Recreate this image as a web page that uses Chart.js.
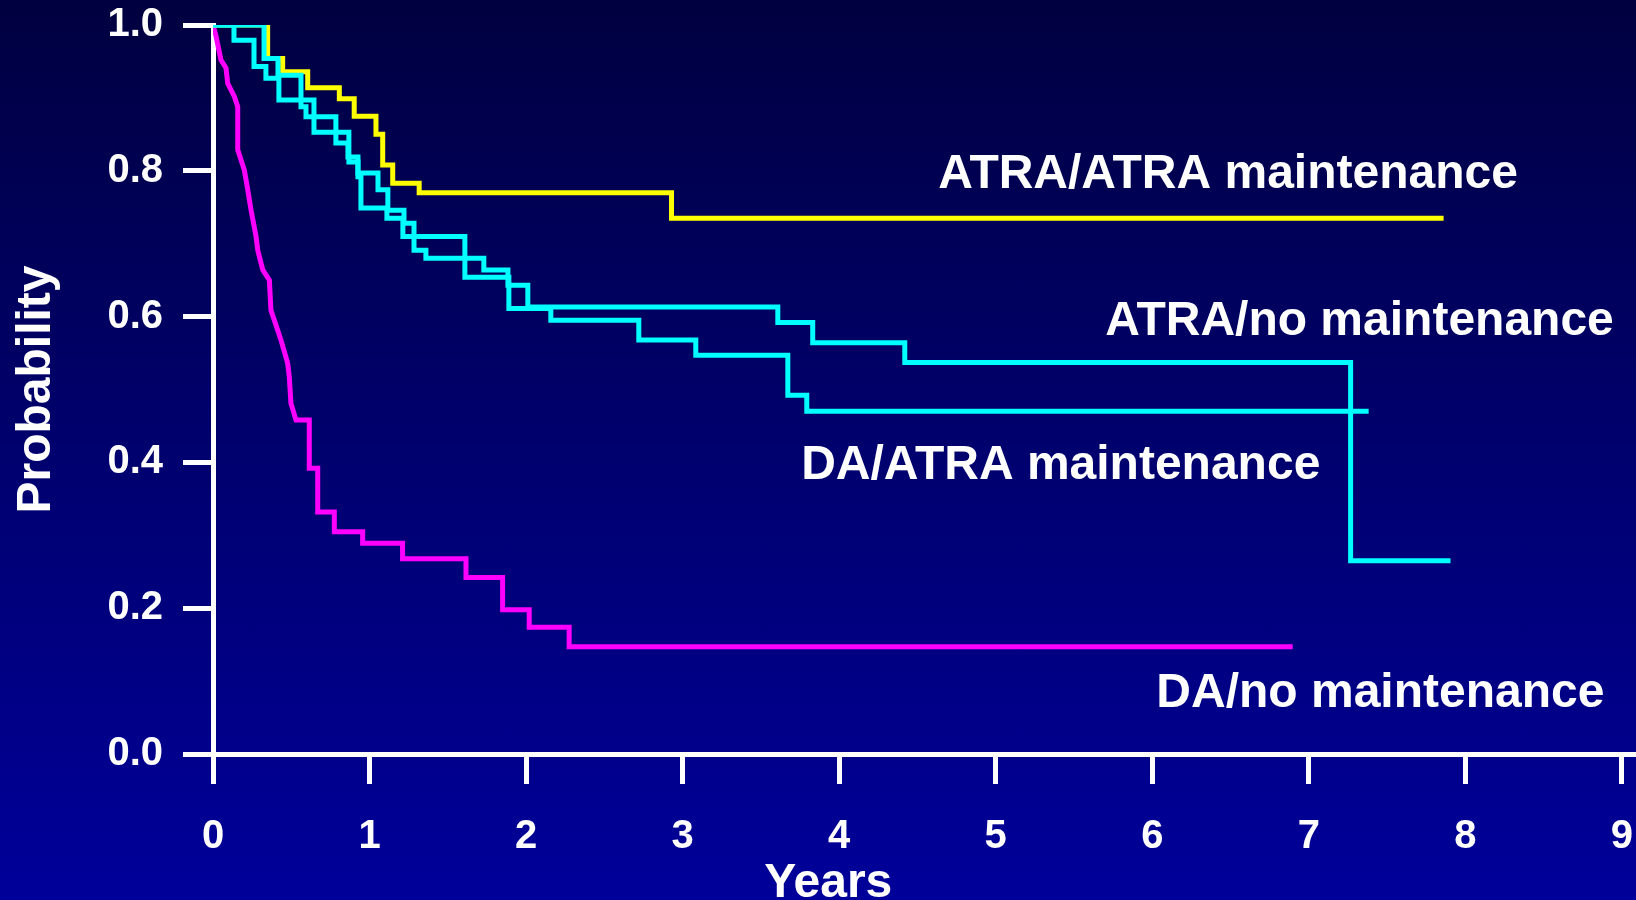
<!DOCTYPE html>
<html>
<head>
<meta charset="utf-8">
<title>Disease-free survival by induction and maintenance</title>
<script src="https://cdn.jsdelivr.net/npm/chart.js@4.4.1/dist/chart.umd.min.js"></script>
<style>
  html, body {
    margin: 0;
    padding: 0;
    width: 1636px;
    height: 900px;
    overflow: hidden;
    background: linear-gradient(to bottom, #000040 0%, #00006e 50%, #00009a 100%);
  }
  canvas { display: block; }
</style>
</head>
<body>
<canvas id="km" width="1636" height="900"></canvas>
<script>
// ---- data -------------------------------------------------------------
const yearTicks = [0, 1, 2, 3, 4, 5, 6, 7, 8, 9];
const probTicks = [0, 0.2, 0.4, 0.6, 0.8, 1.0];

const seriesNames = [
  'ATRA/ATRA maintenance',
  'ATRA/no maintenance',
  'DA/ATRA maintenance',
  'DA/no maintenance'
];

// step curves: each value holds from its time until the next time
const atraAtraYears = [0, 0.349, 0.445, 0.605, 0.807, 0.902, 1.041, 1.084, 1.148, 1.317, 2.929, 7.861];
const atraAtraProb  = [1.0, 0.954, 0.936, 0.914, 0.899, 0.875, 0.850, 0.808, 0.783, 0.770, 0.735, 0.735];

const atraNoYears = [0, 0.134, 0.262, 0.338, 0.421, 0.645, 0.868, 0.926, 1.054, 1.117, 1.220, 1.284,
                     1.360, 1.730, 1.884, 2.011, 3.608, 3.831, 4.419, 7.267, 7.905];
const atraNoProb  = [1.0, 0.979, 0.943, 0.927, 0.897, 0.853, 0.812, 0.797, 0.774, 0.746, 0.728, 0.691,
                     0.680, 0.664, 0.643, 0.613, 0.592, 0.564, 0.537, 0.265, 0.265];

const daAtraYears = [0, 0.326, 0.415, 0.562, 0.594, 0.785, 0.862, 0.926, 0.945, 1.111, 1.213, 1.609,
                     1.890, 2.158, 2.720, 3.084, 3.672, 3.793, 7.382];
const daAtraProb  = [1.0, 0.954, 0.931, 0.888, 0.874, 0.838, 0.819, 0.792, 0.749, 0.735, 0.710, 0.654,
                     0.611, 0.595, 0.568, 0.547, 0.492, 0.470, 0.470];

// polyline vertices (dense early events, then plain steps)
const daNoYears = [0, 0.019, 0.051, 0.083, 0.094, 0.136, 0.158, 0.158, 0.200, 0.222, 0.243, 0.275,
                   0.286, 0.318, 0.360, 0.370, 0.434, 0.477, 0.487, 0.498, 0.530,
                   0.615, 0.615, 0.669, 0.669, 0.775, 0.775, 0.956, 0.956, 1.211, 1.211,
                   1.616, 1.616, 1.850, 1.850, 2.020, 2.020, 2.275, 2.275, 6.897];
const daNoProb  = [1.0, 0.985, 0.952, 0.941, 0.920, 0.902, 0.888, 0.829, 0.801, 0.774, 0.746, 0.710,
                   0.691, 0.664, 0.650, 0.609, 0.568, 0.536, 0.518, 0.481, 0.458,
                   0.458, 0.392, 0.392, 0.332, 0.332, 0.305, 0.305, 0.289, 0.289, 0.268,
                   0.268, 0.242, 0.242, 0.198, 0.198, 0.174, 0.174, 0.147, 0.147];

// ---- helpers ------------------------------------------------------------
const FONT = '"Liberation Sans", Arial, Helvetica, sans-serif';
const toPoints = (xs, ys) => xs.map((x, i) => ({ x, y: ys[i] }));

// text drawn on the plot in data coordinates
const captions = [
  { text: seriesNames[0], x: 4.633, y: 0.776,  align: 'left' },
  { text: seriesNames[1], x: 5.700, y: 0.575,  align: 'left' },
  { text: seriesNames[2], x: 3.757, y: 0.377,  align: 'left' },
  { text: seriesNames[3], x: 6.026, y: 0.0645, align: 'left' },
  { text: 'Years',        x: 3.930, y: -0.196, align: 'center' }
];

const captionPlugin = {
  id: 'captions',
  afterDatasetsDraw(chart) {
    const { ctx, scales: { x, y } } = chart;
    ctx.save();
    ctx.fillStyle = '#ffffff';
    ctx.font = 'bold 48px ' + FONT;
    ctx.textBaseline = 'alphabetic';
    captions.forEach(c => {
      ctx.textAlign = c.align;
      ctx.fillText(c.text, x.getPixelForValue(c.x), y.getPixelForValue(c.y));
    });
    ctx.restore();
  }
};

const lineStyle = {
  borderWidth: 5,
  pointRadius: 0,
  pointHoverRadius: 0,
  fill: false,
  tension: 0,
  borderJoinStyle: 'miter',
  borderCapStyle: 'butt'
};

const axisGrid = {
  display: true,
  drawOnChartArea: false,
  drawTicks: true,
  tickLength: 30,
  tickWidth: 5,
  tickColor: '#ffffff',
  color: '#ffffff',
  lineWidth: 5
};
const axisBorder = { display: true, color: '#ffffff', width: 5 };
const tickFont = { family: FONT, size: 40, weight: 'bold' };

new Chart(document.getElementById('km'), {
  type: 'line',
  data: {
    datasets: [
      { label: seriesNames[1], data: toPoints(atraNoYears, atraNoProb), borderColor: '#00ffff', stepped: 'before', ...lineStyle },
      { label: seriesNames[2], data: toPoints(daAtraYears, daAtraProb), borderColor: '#00ffff', stepped: 'before', ...lineStyle },
      { label: seriesNames[0], data: toPoints(atraAtraYears, atraAtraProb), borderColor: '#ffff00', stepped: 'before', ...lineStyle },
      { label: seriesNames[3], data: toPoints(daNoYears, daNoProb), borderColor: '#ff00ff', stepped: false, ...lineStyle }
    ]
  },
  options: {
    responsive: false,
    animation: false,
    devicePixelRatio: 1,
    layout: { padding: { top: 25, right: 0, bottom: 0, left: 0 } },
    plugins: {
      legend: { display: false },
      tooltip: { enabled: false }
    },
    events: [],
    scales: {
      x: {
        type: 'linear',
        position: 'bottom',
        min: 0,
        max: 9.09,
        afterBuildTicks: axis => { axis.ticks = yearTicks.map(v => ({ value: v })); },
        afterFit: axis => { axis.height = 146; axis.paddingLeft = 0; axis.paddingRight = 0; },
        grid: axisGrid,
        border: axisBorder,
        ticks: {
          color: '#ffffff',
          font: tickFont,
          padding: 29,
          maxRotation: 0,
          autoSkip: false,
          callback: v => String(v)
        }
      },
      y: {
        type: 'linear',
        min: 0,
        max: 1,
        afterBuildTicks: axis => { axis.ticks = probTicks.map(v => ({ value: v })); },
        afterFit: axis => { axis.width = 213; axis.paddingTop = 0; axis.paddingBottom = 0; },
        grid: axisGrid,
        border: axisBorder,
        ticks: {
          color: '#ffffff',
          font: tickFont,
          padding: 20,
          autoSkip: false,
          callback: v => Number(v).toFixed(1)
        },
        title: {
          display: true,
          text: 'Probability',
          color: '#ffffff',
          font: { family: FONT, size: 48, weight: 'bold' },
          padding: { top: 8, bottom: 0 }
        }
      }
    }
  },
  plugins: [captionPlugin]
});
</script>
</body>
</html>
